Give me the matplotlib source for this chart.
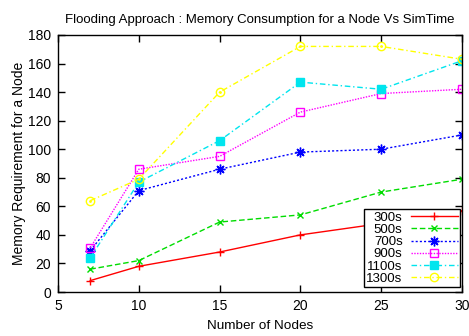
import matplotlib
matplotlib.use("Agg")
import matplotlib.pyplot as plt

plt.rcParams['font.family'] = ['Liberation Sans', 'DejaVu Sans']

nodes = [7, 10, 15, 20, 25, 30]
mem_300 = [8, 18, 28, 40, 48, 57]
mem_500 = [16, 22, 49, 54, 70, 79]
mem_700 = [29, 71, 86, 98, 100, 110]
mem_900 = [31, 86, 95, 126, 139, 142]
mem_1100 = [24, 77, 106, 147, 142, 162]
mem_1300 = [64, 79, 140, 172, 172, 163]

xticks = [5, 10, 15, 20, 25, 30]
yticks = [0, 20, 40, 60, 80, 100, 120, 140, 160, 180]

fig = plt.figure(figsize=(4.69, 3.36), dpi=100)
ax = fig.add_axes([58/469, 44/336, 404/469, 257/336])

ax.plot(nodes, mem_300, color='#ff0000', ls='-', lw=1, marker='+', ms=6, mew=1, label='300s')
ax.plot(nodes, mem_500, color='#00dd00', ls=(0, (4, 2)), lw=1, marker='x', ms=5, mew=1, label='500s')
ax.plot(nodes, mem_700, color='#0000ff', ls=(0, (1.5, 1.5)), lw=1, marker=(8, 2, 0), ms=7, mew=1, label='700s')
ax.plot(nodes, mem_900, color='#ff00ff', ls=(0, (1, 1)), lw=1, marker='s', ms=6, mew=1, mfc='none', label='900s')
ax.plot(nodes, mem_1100, color='#00e5ee', ls=(0, (4, 2, 1, 2)), lw=1, marker='s', ms=6, mew=1, label='1100s')
ax.plot(nodes, mem_1300, color='#ffff00', ls=(0, (4, 2, 1, 2)), lw=1, marker='o', ms=6, mew=1, mfc='none', label='1300s')
ax.plot(nodes, mem_1300, ls='none', color='#ffff00', marker='.', ms=2)

ax.set_xlim(5, 30)
ax.set_ylim(0, 180)
ax.set_xticks(xticks)
ax.set_yticks(yticks)
ax.tick_params(direction='in', top=True, right=True, length=5, width=1, labelsize=10, pad=5)
for s in ax.spines.values():
    s.set_linewidth(1)

ax.set_title('Flooding Approach : Memory Consumption for a Node Vs SimTime', fontsize=9.5, pad=9)
ax.set_xlabel('Number of Nodes', fontsize=9.7, labelpad=5)
ax.set_ylabel('Memory Requirement for a Node', fontsize=10, labelpad=1)

leg = ax.legend(loc='lower right', bbox_to_anchor=(0.995, 0.02), markerfirst=False,
                fontsize=9.5, frameon=True, fancybox=False, edgecolor='black',
                framealpha=1, borderpad=0.15, labelspacing=0.0, handlelength=3.6,
                handletextpad=0.6, borderaxespad=0)
leg.get_frame().set_linewidth(1)
for t in leg.get_texts():
    t.set_ha('right')
    t.set_position((0, 0))

fig.savefig('out.png', dpi=100)
